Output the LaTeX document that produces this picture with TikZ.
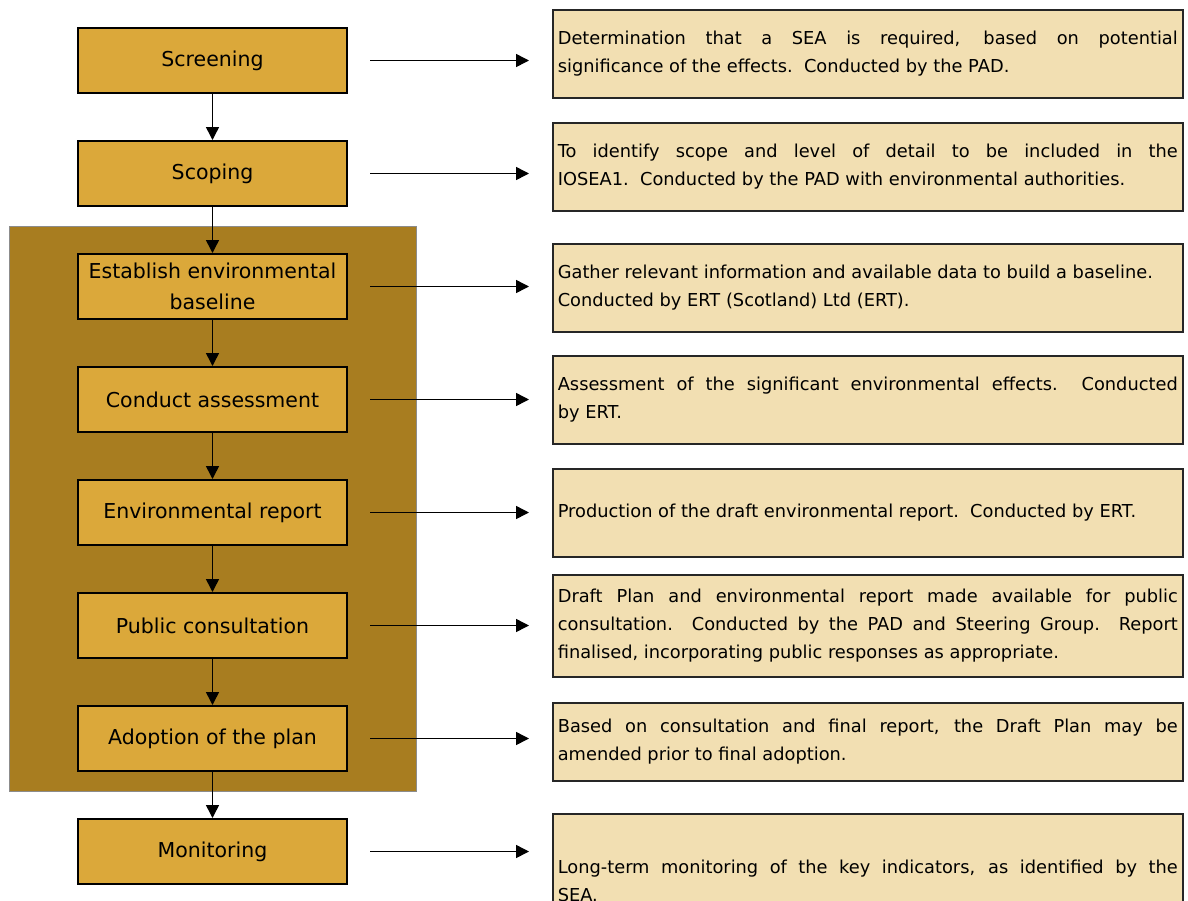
\documentclass[tikz,border=0pt]{standalone}
\usepackage{fontspec}
\setmainfont{DejaVu Sans}
\usetikzlibrary{positioning,calc,arrows.meta}

\definecolor{framefill}{HTML}{A87D20}
\definecolor{stagefill}{HTML}{DBA83A}
\definecolor{notefill}{HTML}{F2DFB2}
\hyphenpenalty=10000

\begin{document}
\begin{tikzpicture}[
  x=1pt,y=-1pt,
  node distance=46pt,
  stage/.style={draw,line width=2pt,fill=stagefill,minimum width=269pt,minimum height=65pt,
    inner sep=0pt,align=center,font=\fontsize{20.5}{31}\selectfont},
  note/.style={draw=black!85,line width=1.6pt,fill=notefill,anchor=north west,
    text width=620pt,minimum height=#1,inner xsep=5pt,inner ysep=0pt,align=justify,
    font=\fontsize{17.8}{28}\selectfont},
  note/.default=88pt,
  flow/.style={draw,line width=1.5pt,-{Triangle[length=13pt,width=13pt]}},
  ]

  \clip (0,0) rectangle (1188,900);
  \fill [white] (0,0) rectangle (1188,900);

  % the assessment stages sit on one frame
  \draw [fill=framefill,draw=black!45,line width=1pt] (9,226) rectangle (416,791);

  \node [stage] (screening-stage) at (212.5,60.5) {Screening};
  \node [stage,below=of screening-stage] (scoping-stage) {Scoping};
  \node [stage,below=of scoping-stage] (baseline-stage) {Establish environmental\\baseline};
  \node [stage,below=of baseline-stage] (assess-stage) {Conduct assessment};
  \node [stage,below=of assess-stage] (report-stage) {Environmental report};
  \node [stage,below=of report-stage] (consult-stage) {Public consultation};
  \node [stage,below=of consult-stage] (adopt-stage) {Adoption of the plan};
  \node [stage,below=of adopt-stage] (monitor-stage) {Monitoring};

  \node [note] (screening-note) at (552,9) {Determination that a SEA is required, based on potential \linebreak significance of the effects.\ \ Conducted by the PAD.};
  \node [note] (scoping-note) at (552,122) {To identify scope and level of detail to be included in the \linebreak IOSEA1.\ \ Conducted by the PAD with environmental authorities.};
  \node [note] (baseline-note) at (552,243) {Gather relevant information and available data to build a baseline.\\Conducted by ERT (Scotland) Ltd (ERT).};
  \node [note] (assess-note) at (552,355) {Assessment of the significant environmental effects.\ \ Conducted \linebreak by ERT.};
  \node [note] (report-note) at (552,468) {Production of the draft environmental report.\ \ Conducted by ERT.};
  \node [note=102pt] (consult-note) at (552,574) {Draft Plan and environmental report made available for public \linebreak consultation.\ \ Conducted by the PAD and Steering Group.\ \ Report \linebreak finalised, incorporating public responses as appropriate.};
  \node [note=78pt] (adopt-note) at (552,702) {Based on consultation and final report, the Draft Plan may be \linebreak amended prior to final adoption.};
  \node [note=134pt] (monitor-note) at (552,813) {Long-term monitoring of the key indicators, as identified by the \linebreak SEA.};

  \foreach \a/\b in {screening/scoping,scoping/baseline,baseline/assess,assess/report,
    report/consult,consult/adopt,adopt/monitor}
    \draw [flow] (\a-stage) -- (\b-stage);

  \foreach \s in {screening,scoping,baseline,assess,report,consult,adopt,monitor}
    \draw [flow,shorten <=22pt,shorten >=23pt] (\s-stage.east) -- (\s-stage.east -| \s-note.west);

\end{tikzpicture}
\end{document}
